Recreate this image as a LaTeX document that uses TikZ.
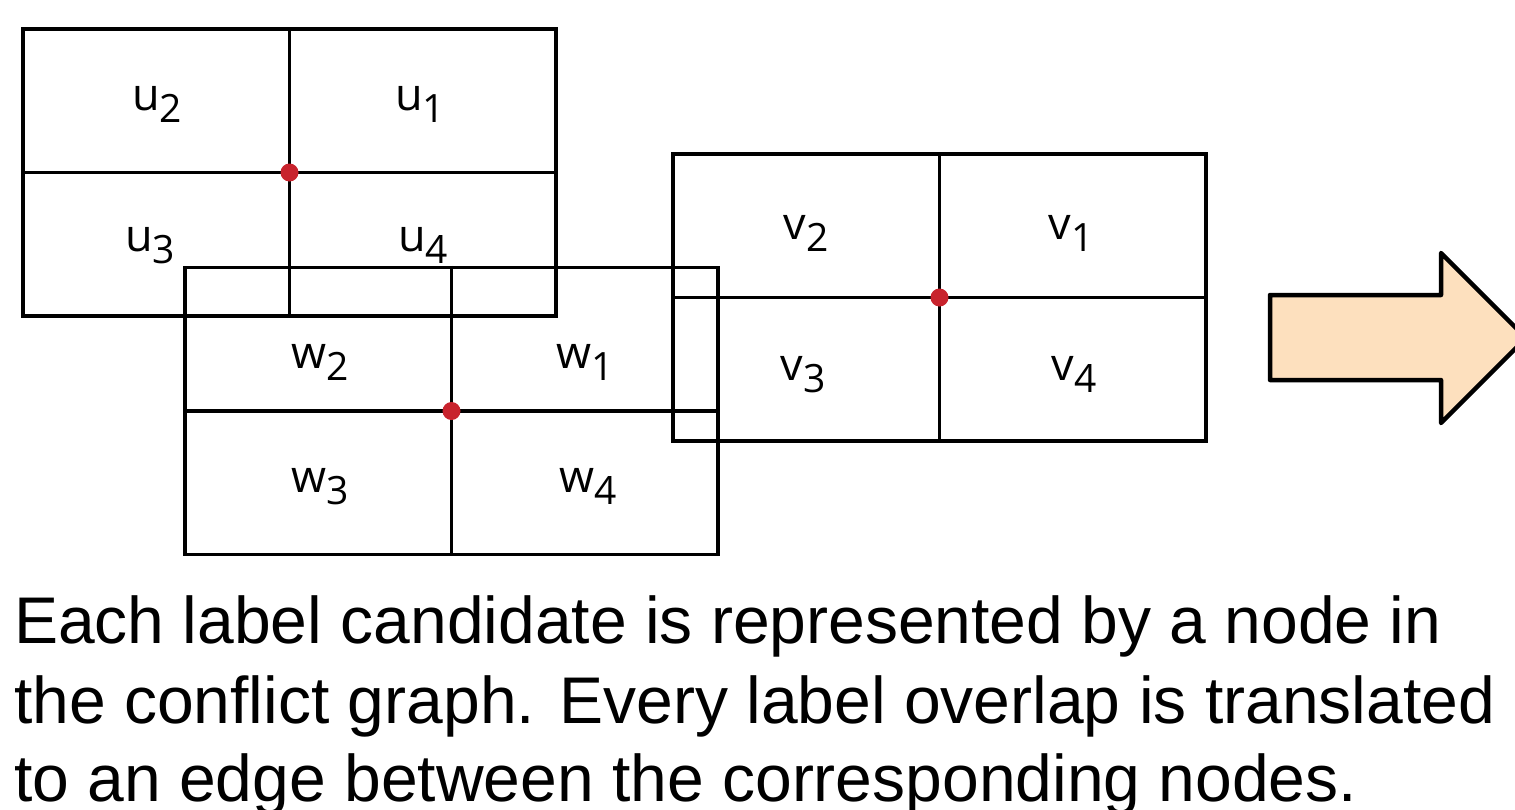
\documentclass[tikz,border=0pt]{standalone}
\usepackage{fontspec}
\setmainfont{Liberation Sans}
\newfontfamily\labfont{Open Sans}
\definecolor{dotred}{RGB}{200,35,45}
\definecolor{arrowfill}{RGB}{253,224,190}
\newcommand\lab[2]{{\labfont\fontsize{45}{45}\selectfont #1\raisebox{-12pt}{\fontsize{39}{39}\selectfont #2}}}
\begin{document}
\begin{tikzpicture}[x=1pt,y=-1pt,
  box/.style={draw=black,line width=3.2pt,rectangle,minimum width=533pt,minimum height=287pt,inner sep=0pt},
  grid/.style={line width=3.2pt},
  reddot/.style={circle,fill=dotred,inner sep=0pt,minimum size=18pt},
  lbl/.style={inner sep=0pt,anchor=base},
  body/.style={inner sep=0pt,anchor=base west,font=\fontsize{66}{78}\selectfont}]
\useasboundingbox (0,0) rectangle (1515,809);
% U
\node[box] (U) at (289.5,172.5) {};
\draw[grid] (U.north) -- (U.south);
\draw[grid] (U.west) -- (U.east);
% W
\node[box] (W) at (451.5,411) {};
\draw[grid] (W.north) -- (W.south);
\draw[grid] (W.west) -- (W.east);
% V
\node[box] (V) at (939.5,297.5) {};
\draw[grid] (V.north) -- (V.south);
\draw[grid] (V.west) -- (V.east);
% dots
\node[reddot] (du) at (U.center) {};
\node[reddot] (dw) at (W.center) {};
\node[reddot] (dv) at (V.center) {};
% labels
\node[lbl] (u2) at (157,110) {\lab{u}{2}};
\node[lbl] (u1) at (420,110) {\lab{u}{1}};
\node[lbl] (u3) at (150,251) {\lab{u}{3}};
\node[lbl] (u4) at (423,251) {\lab{u}{4}};
\node[lbl] (v2) at (806,239) {\lab{v}{2}};
\node[lbl] (v1) at (1071,239) {\lab{v}{1}};
\node[lbl] (v3) at (803,380) {\lab{v}{3}};
\node[lbl] (v4) at (1074,380) {\lab{v}{4}};
\node[lbl] (w2) at (320,368) {\lab{w}{2}};
\node[lbl] (w1) at (585,368) {\lab{w}{1}};
\node[lbl] (w3) at (320,492) {\lab{w}{3}};
\node[lbl] (w4) at (588,492) {\lab{w}{4}};
% arrow
\draw[line width=4.5pt,fill=arrowfill,line join=round] (1270,295) -- (1441,295) -- (1441,253) -- (1526,338) -- (1441,423) -- (1441,380) -- (1270,380) -- cycle;
% text
\node[body] (t1) at (14,643) {Each label candidate is represented by a node in};
\node[body] (t2) at (14,723) {the conflict graph. Every label overlap is translated};
\node[body] (t3) at (14,801) {to an edge between the corresponding nodes.};
\end{tikzpicture}
\end{document}
